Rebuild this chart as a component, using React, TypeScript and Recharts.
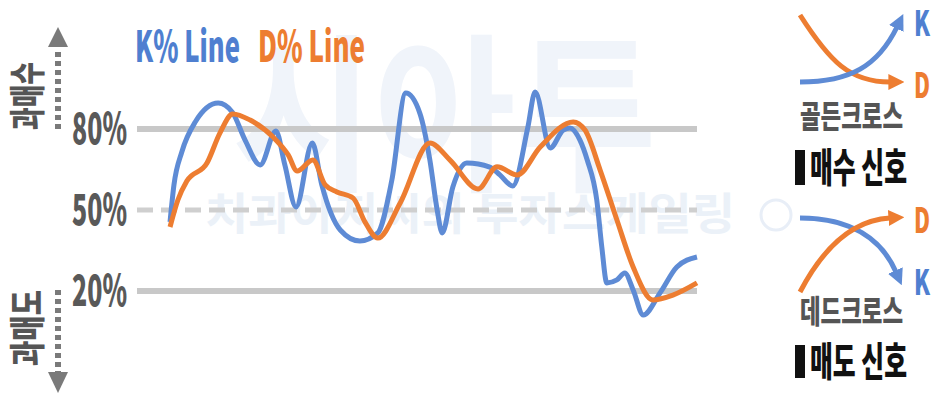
import { LineChart, Line, XAxis, YAxis, ReferenceLine } from "recharts";

// day index (0-100) and %K / %D values
const kDays = [5.9, 6.6, 8.0, 10.4, 14.5, 17.0, 19.3, 22.0, 24.8, 26.4, 28.4, 31.3, 33.0, 36.3, 39.8, 43.0, 45.5, 48.0, 50.5, 52.3, 53.6, 54.5, 56.4, 58.9, 63.0, 64.8, 67.1, 69.8, 71.1, 73.8, 76.1, 77.3, 79.1, 80.4, 82.1, 83.0, 83.9, 85.7, 87.1, 88.6, 90.4, 93.4, 96.4, 100];
const kValues = [45.6, 59.3, 71.5, 82.6, 89.6, 86.3, 75.9, 66.7, 79.3, 66.7, 51.1, 74.8, 59.3, 42.6, 38.5, 41.5, 61, 93.3, 85.9, 68.5, 50, 41.5, 58.5, 67.4, 65.9, 63, 58.9, 80.7, 93.7, 73, 79.6, 80.4, 75.9, 68.5, 53.7, 36.3, 23, 24.1, 26.7, 20.4, 11.1, 19.3, 28.9, 32.6];

const dDays = [5.9, 7.3, 8.9, 12.5, 14.8, 17.1, 20.2, 24.3, 27.0, 28.6, 31.4, 33.6, 35.7, 38.6, 40.7, 43.0, 47.0, 52.3, 55.9, 60.9, 64.3, 67.9, 72.0, 77.9, 80.0, 82.7, 85.7, 88.6, 92.1, 95.7, 100];
const dValues = [43.7, 53.7, 60.7, 67.4, 78.5, 85.6, 83.3, 77, 70.4, 64.4, 68.5, 59.3, 56.7, 54.4, 45.6, 39.6, 52.6, 74.8, 68.5, 57.8, 66, 63, 73.3, 82.6, 79.6, 64.8, 46.3, 28.9, 16.7, 18.5, 23];

const levelTicks = [20, 50, 80];

const kData = kDays.map((day, i) => ({ day, value: kValues[i] }));
const dData = dDays.map((day, i) => ({ day, value: dValues[i] }));

const BLUE = "#5e8bd5";
const ORANGE = "#ed7d31";
const KR = "'Noto Sans CJK KR', sans-serif";

const PctTick = (props: any) => {
  const { x, y, payload } = props;
  return (
    <text x={x} y={y + 15} textAnchor="end" fontSize={43} fontWeight={900}
      fill="#595959" fontFamily={KR} textLength={55} lengthAdjust="spacingAndGlyphs">
      {payload.value}%
    </text>
  );
};

function Watermark() {
  return (
    <svg width={936} height={394} style={{ position: "absolute", left: 0, top: 0 }}>
      <text x={232} y={178} fontSize={170} fontWeight={700} fill="#f0f4fa" fontFamily={KR}
        textLength={425} lengthAdjust="spacingAndGlyphs">시아투</text>
      <text x={205} y={230} fontSize={44} fontWeight={700} fill="#ebf1f8" fontFamily={KR}
        textLength={530} lengthAdjust="spacingAndGlyphs">치과아저씨의 투자스케일링</text>
      <circle cx={776} cy={215} r={15} fill="none" stroke="#e8eef7" strokeWidth={3} />
    </svg>
  );
}

function Decorations() {
  const tx = { fontFamily: KR, fontWeight: 900, lengthAdjust: "spacingAndGlyphs" } as any;
  return (
    <svg width={936} height={394} style={{ position: "absolute", left: 0, top: 0, pointerEvents: "none" }}>
      <defs>
        <marker id="ab" viewBox="0 0 10 10" refX={1} refY={5} markerWidth={16} markerHeight={16}
          markerUnits="userSpaceOnUse" orient="auto">
          <path d="M0,0 L10,5 L0,10 z" fill={BLUE} />
        </marker>
        <marker id="ao" viewBox="0 0 10 10" refX={1} refY={5} markerWidth={16} markerHeight={16}
          markerUnits="userSpaceOnUse" orient="auto">
          <path d="M0,0 L10,5 L0,10 z" fill={ORANGE} />
        </marker>
      </defs>

      {/* title */}
      <text x={135} y={62} fontSize={43} fill="#4f7fd0" textLength={105} {...tx}>K% Line</text>
      <text x={258} y={62} fontSize={43} fill={ORANGE} textLength={107} {...tx}>D% Line</text>

      {/* left side: overbought / oversold */}
      <text x={25} y={96} fontSize={36} fill="#555" textAnchor="middle" dominantBaseline="central"
        transform="rotate(-90 25 96)" textLength={68} {...tx}>과매수</text>
      <line x1={58} y1={52} x2={58} y2={132} stroke="#7a7a7a" strokeWidth={6} strokeDasharray="5 4" />
      <polygon points="48,47 58,27 68,47" fill="#7a7a7a" />
      <text x={25} y={328} fontSize={36} fill="#555" textAnchor="middle" dominantBaseline="central"
        transform="rotate(-90 25 328)" textLength={76} {...tx}>과매도</text>
      <line x1={58} y1={290} x2={58} y2={372} stroke="#7a7a7a" strokeWidth={6} strokeDasharray="5 4" />
      <polygon points="48,372 58,393 68,372" fill="#7a7a7a" />

      {/* golden cross */}
      <path d="M800,15 C830,62 850,82 890,82" fill="none" stroke={ORANGE} strokeWidth={5} markerEnd="url(#ao)" />
      <path d="M800,82 C850,82 878,66 897,27" fill="none" stroke={BLUE} strokeWidth={5} markerEnd="url(#ab)" />
      <text x={914} y={36} fontSize={35} fill="#4f7fd0" textLength={16} {...tx}>K</text>
      <text x={914} y={98} fontSize={35} fill={ORANGE} textLength={16} {...tx}>D</text>
      <text x={800} y={128} fontSize={32} fill="#555" textLength={103} {...tx}>골든크로스</text>
      <rect x={795} y={150} width={10} height={35} fill="#111" />
      <text x={810} y={182} fontSize={40} fill="#111" textLength={97} {...tx}>매수 신호</text>

      {/* dead cross */}
      <path d="M800,218 C852,218 882,240 896,272" fill="none" stroke={BLUE} strokeWidth={5} markerEnd="url(#ab)" />
      <path d="M800,292 C822,250 852,220 890,218" fill="none" stroke={ORANGE} strokeWidth={5} markerEnd="url(#ao)" />
      <text x={914} y={233} fontSize={35} fill={ORANGE} textLength={16} {...tx}>D</text>
      <text x={914} y={295} fontSize={35} fill="#4f7fd0" textLength={16} {...tx}>K</text>
      <text x={800} y={323} fontSize={32} fill="#555" textLength={103} {...tx}>데드크로스</text>
      <rect x={795} y={345} width={10} height={33} fill="#111" />
      <text x={810} y={376} fontSize={40} fill="#111" textLength={97} {...tx}>매도 신호</text>
    </svg>
  );
}

export default function App() {
  return (
    <div style={{ position: "absolute", left: 0, top: 0, width: 936, height: 394, background: "#fff", overflow: "hidden" }}>
      <Watermark />
      <div style={{ position: "absolute", left: 0, top: 0 }}>
        <LineChart width={936} height={394} margin={{ top: 75, right: 239, bottom: 49, left: 0 }}>
          <XAxis type="number" dataKey="day" domain={[0, 100]} hide allowDuplicatedCategory={false} />
          <YAxis type="number" domain={[0, 100]} ticks={levelTicks} width={137} axisLine={false}
            tickLine={false} tickSize={0} tickMargin={10} tick={<PctTick />} />
          <ReferenceLine y={80} stroke="#c8c8c8" strokeWidth={6} />
          <ReferenceLine y={50} stroke="#cfcfcf" strokeWidth={5} strokeDasharray="16 8" />
          <ReferenceLine y={20} stroke="#c8c8c8" strokeWidth={6} />
          <Line data={kData} dataKey="value" type="monotone" stroke={BLUE} strokeWidth={5} dot={false} isAnimationActive={false} />
          <Line data={dData} dataKey="value" type="monotone" stroke={ORANGE} strokeWidth={5} dot={false} isAnimationActive={false} />
        </LineChart>
      </div>
      <Decorations />
    </div>
  );
}
